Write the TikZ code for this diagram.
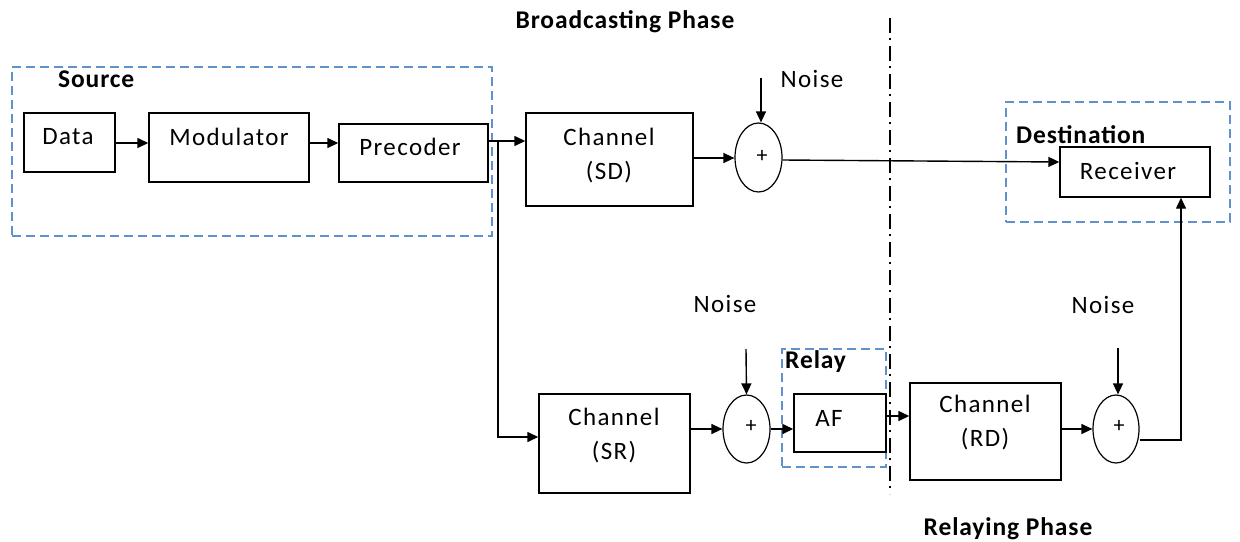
\documentclass[tikz,border=0pt]{standalone}
\usepackage{fontspec}
\setmainfont{Carlito}
\newfontfamily\lblfont[LetterSpace=5.5]{Carlito}
\newfontfamily\ttlfont[LetterSpace=3.5]{Carlito}
\usetikzlibrary{arrows.meta,shapes.geometric}
\definecolor{grpblue}{RGB}{95,145,205}
\tikzset{
  blk/.style={draw, line width=1.4pt, rectangle, inner sep=0pt},
  sumnode/.style={draw, line width=1.2pt, ellipse, inner sep=0pt, font=\fontsize{22}{24}\selectfont},
  txt/.style={inner sep=0pt, font=\lblfont\fontsize{25}{30}\selectfont, align=center},
  ttl/.style={inner sep=0pt, font=\ttlfont\fontsize{25.5}{30}\selectfont\bfseries},
  grp/.style={draw=grpblue, line width=1.3pt, dash pattern=on 9pt off 5pt},
  arr/.style={line width=1.4pt, -{Triangle[length=11pt,width=10pt]}},
  phase/.style={line width=1.3pt, dash pattern=on 15pt off 5pt on 2pt off 6pt}
}
\begin{document}
\begin{tikzpicture}[x=1pt,y=-1pt]
\useasboundingbox (0,0) rectangle (1240,541);

% phase titles and separator
\node[ttl] (tbc) at (625,22) {Broadcasting Phase};
\node[ttl] (trl) at (1008,529) {Relaying Phase};
\coordinate (sepTop) at (890,18);
\coordinate (sepBot) at (890,494);
\draw[phase] (sepTop) -- (sepBot);

% group frames
\node[grp, minimum width=480, minimum height=169] (srcgrp) at (252,151.5) {};
\node[ttl, anchor=west] (tsrc) at (58,79) {Source};
\node[grp, minimum width=224, minimum height=120] (dstgrp) at (1118,162) {};
\node[ttl, anchor=west] (tdst) at (1016,135) {Destination};
\node[grp, minimum width=104, minimum height=118] (rlygrp) at (834,408) {};
\node[ttl, anchor=west] (trly) at (785,362) {Relay};

% source chain
\node[blk, minimum width=91, minimum height=59] (data) at (69.5,142.5) {};
\node[txt] (tdata) at (68,137) {Data};
\node[blk, minimum width=160, minimum height=69] (mod) at (229,147.5) {};
\node[txt] (tmod) at (229,137) {Modulator};
\node[blk, minimum width=149, minimum height=58] (pre) at (413.5,153) {};
\node[txt] (tpre) at (410,147) {Precoder};

% direct link
\node[blk, minimum width=167, minimum height=93] (chsd) at (609.5,159.5) {};
\node[txt] (tchsd) at (609,156) {Channel\\[4pt](SD)};
\node[sumnode, minimum width=47, minimum height=69] (sum1) at (758.5,157.5) {};
\node[sumnode, draw=none] (psum1) at (762,156) {+};
\node[txt] (nz1) at (812,79) {Noise};
\coordinate (nz1a) at (761,78);

% relay link
\node[blk, minimum width=151, minimum height=99] (chsr) at (614.5,443.5) {};
\node[txt] (tchsr) at (614,436) {Channel\\[4pt](SR)};
\node[sumnode, minimum width=47, minimum height=68] (sum2) at (746.5,429) {};
\node[sumnode, draw=none] (psum2) at (751,426) {+};
\node[txt] (nz2) at (725,304) {Noise};
\coordinate (nz2a) at (746,349);
\node[blk, minimum width=92, minimum height=58] (af) at (840,423) {};
\node[txt] (taf) at (829,418) {AF};

\node[blk, minimum width=151, minimum height=97] (chrd) at (985.5,431.5) {};
\node[txt] (tchrd) at (985,423) {Channel\\[4pt](RD)};
\node[sumnode, minimum width=46, minimum height=68] (sum3) at (1116,429) {};
\node[sumnode, draw=none] (psum3) at (1119,426) {+};
\node[txt] (nz3) at (1103,305) {Noise};
\coordinate (nz3a) at (1118,348);

% destination
\node[blk, minimum width=150, minimum height=50] (rx) at (1135,172) {};
\node[txt] (trx) at (1128,171) {Receiver};

% connectors
\coordinate (split) at (498,141);
\coordinate (outR) at (1181,440);
\draw[arr] (data.east |- 0,143) -- (mod.west |- 0,143);
\draw[arr] (mod.east |- 0,143) -- (pre.west |- 0,143);
\draw[arr] (pre.east |- split) -- (chsd.west |- split);
\draw[arr] (split) |- (chsr.west |- 0,437);
\draw[arr] (chsd.east |- 0,158) -- (sum1.west |- 0,158);
\draw[arr] (nz1a) -- (sum1.north -| nz1a);
\draw[arr] (sum1.east |- 0,160) -- (rx.west |- 0,162);
\draw[arr] (chsr.east |- 0,429) -- (sum2.west);
\draw[arr] (nz2a) -- (sum2.north);
\draw[arr] (sum2.east) -- (af.west |- 0,429);
\draw[arr] (af.east |- 0,416) -- (chrd.west |- 0,416);
\draw[arr] (chrd.east |- 0,429) -- (sum3.west);
\draw[arr] (nz3a) -- (sum3.north -| nz3a);
\draw[arr] (sum3.east |- outR) -- (outR) -- (rx.south -| outR);
\end{tikzpicture}
\end{document}
